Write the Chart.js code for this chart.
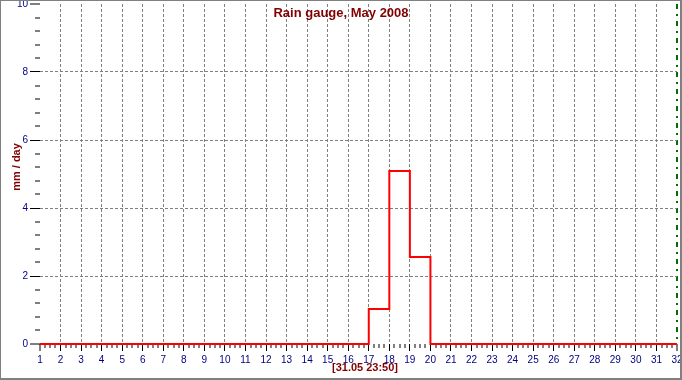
<!DOCTYPE html>
<html>
<head>
<meta charset="utf-8">
<script src="https://cdn.jsdelivr.net/npm/chart.js@4/dist/chart.umd.min.js"></script>
<style>
  html, body { margin: 0; padding: 0; background: #ffffff; }
  canvas { display: block; }
</style>
</head>
<body>
<canvas id="c" width="682" height="380"></canvas>
<script>
// ---- data ----
const chartTitle = "Rain gauge, May 2008";
const yAxisTitle = "mm / day";
const timeStamp = "[31.05 23:50]";
const days = [1, 2, 3, 4, 5, 6, 7, 8, 9, 10, 11, 12, 13, 14, 15, 16,
              17, 18, 19, 20, 21, 22, 23, 24, 25, 26, 27, 28, 29, 30, 31, 32];
// rain of the day starting at each point (held until the next day)
const rainPerDay = [0, 0, 0, 0, 0, 0, 0, 0, 0, 0, 0, 0, 0, 0, 0, 0,
                    1.03, 5.09, 2.56, 0, 0, 0, 0, 0, 0, 0, 0, 0, 0, 0, 0, 0];
const yMajorTicks = [0, 2, 4, 6, 8, 10];
const currentDayMarker = 32;

const NAVY = '#000080';
const DARKRED = '#800000';
const GRID = '#808080';

function isMajorY(v) { return yMajorTicks.some(t => Math.abs(t - v) < 1e-6); }
function isInt(v) { return Math.abs(v - Math.round(v)) < 1e-6; }

const decorations = {
  id: 'decorations',
  beforeDraw(chart) {
    const ctx = chart.ctx;
    ctx.save();
    ctx.fillStyle = '#ffffff';
    ctx.fillRect(0, 0, chart.width, chart.height);
    ctx.restore();
  },
  afterDraw(chart) {
    const ctx = chart.ctx;
    ctx.save();
    // title
    ctx.fillStyle = DARKRED;
    ctx.font = 'bold 13px "Liberation Sans", Arial, sans-serif';
    ctx.textAlign = 'center';
    ctx.textBaseline = 'middle';
    ctx.fillText(chartTitle, 341, 13);
    // time stamp
    ctx.font = 'bold 11px "Liberation Sans", Arial, sans-serif';
    ctx.fillText(timeStamp, 365, 368);
    // y axis title
    ctx.save();
    ctx.translate(16.5, 167);
    ctx.rotate(-Math.PI / 2);
    ctx.fillText(yAxisTitle, 0, 0);
    ctx.restore();
    // frame
    ctx.fillStyle = '#808080';
    ctx.fillRect(0, 0, chart.width, 1);
    ctx.fillRect(0, 0, 1, chart.height);
    ctx.fillRect(chart.width - 2, 0, 2, chart.height);
    ctx.fillRect(0, chart.height - 2, chart.width, 2);
    ctx.restore();
  }
};

new Chart(document.getElementById('c'), {
  type: 'line',
  data: {
    datasets: [{
      data: days.map((d, i) => ({ x: d, y: rainPerDay[i] })),
      stepped: 'before',
      borderColor: '#ff0000',
      borderWidth: 2,
      pointRadius: 0,
      fill: false,
      tension: 0,
      clip: 4
    }]
  },
  options: {
    responsive: false,
    animation: false,
    devicePixelRatio: 1,
    layout: { padding: { left: 0, top: 4, right: 5, bottom: 0 } },
    plugins: { legend: { display: false }, tooltip: { enabled: false }, title: { display: false } },
    scales: {
      x: {
        type: 'linear',
        min: 1,
        max: 32,
        border: {
          display: false,
          dash: (c) => (c.tick && c.tick.value === currentDayMarker) ? [5, 5, 2, 5] : [3, 2]
        },
        grid: {
          drawTicks: true,
          tickLength: 7,
          color: (c) => (c.tick && c.tick.value === currentDayMarker) ? '#007000' : GRID,
          lineWidth: (c) => {
            const v = c.tick ? c.tick.value : 0;
            if (!isInt(v) || v === 1) return 0;
            return v === currentDayMarker ? 2 : 1;
          },
          tickColor: '#000000',
          tickWidth: 1,
          tickBorderDash: (c) => (c.tick && isInt(c.tick.value)) ? [] : [4, 100]
        },
        ticks: {
          stepSize: 0.25,
          autoSkip: false,
          maxRotation: 0,
          minRotation: 0,
          padding: 3,
          color: NAVY,
          font: { family: '"Liberation Sans", Arial, sans-serif', size: 10 },
          callback: (v) => isInt(v) ? String(Math.round(v)) : ''
        },
        afterFit: (s) => { s.height = 36; s.paddingLeft = 0; s.paddingRight = 0; }
      },
      y: {
        min: 0,
        max: 10,
        border: { display: false, dash: [3, 2] },
        grid: {
          drawTicks: true,
          tickLength: 10,
          color: GRID,
          lineWidth: (c) => {
            const v = c.tick ? c.tick.value : 0;
            return (isMajorY(v) && v > 0 && v < 10) ? 1 : 0;
          },
          tickColor: '#000000',
          tickWidth: 1,
          tickBorderDash: (c) => (c.tick && isMajorY(c.tick.value)) ? [] : [5, 5],
          tickBorderDashOffset: (c) => (c.tick && isMajorY(c.tick.value)) ? 0 : 5
        },
        ticks: {
          stepSize: 0.4,
          autoSkip: false,
          padding: 2,
          color: NAVY,
          font: { family: '"Liberation Sans", Arial, sans-serif', size: 10 },
          callback: (v) => isMajorY(v) ? String(Math.round(v)) : ''
        },
        afterFit: (s) => { s.width = 40; s.paddingTop = 0; s.paddingBottom = 0; }
      }
    }
  },
  plugins: [decorations]
});
</script>
</body>
</html>
